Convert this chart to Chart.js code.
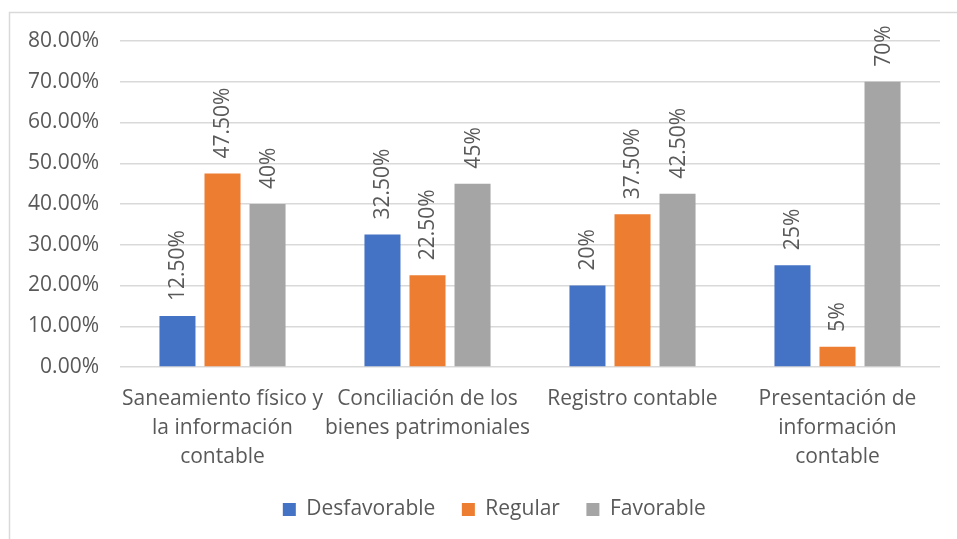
<!DOCTYPE html>
<html>
<head>
<meta charset="utf-8">
<script src="https://cdn.jsdelivr.net/npm/chart.js@4.4.1/dist/chart.umd.min.js"></script>
<style>
  html, body { margin: 0; padding: 0; background: #ffffff; }
  #wrap { width: 957px; height: 539px; position: relative; }
</style>
</head>
<body>
<div id="wrap"><canvas id="c" width="957" height="539"></canvas></div>
<script>
// ---- Data ----
const categories = [
  ["Saneamiento físico y", "la información", "contable"],
  ["Conciliación de los", "bienes patrimoniales"],
  ["Registro contable"],
  ["Presentación de", "información", "contable"]
];
const seriesNames = ["Desfavorable", "Regular", "Favorable"];
const desfavorable = [12.5, 32.5, 20, 25];
const regular = [47.5, 22.5, 37.5, 5];
const favorable = [40, 45, 42.5, 70];
const desfavorableLabels = ["12.50%", "32.50%", "20%", "25%"];
const regularLabels = ["47.50%", "22.50%", "37.50%", "5%"];
const favorableLabels = ["40%", "45%", "42.50%", "70%"];
const yTicks = [0, 10, 20, 30, 40, 50, 60, 70, 80];

// ---- Styles ----
const FONT = "'Open Sans', 'Noto Sans', sans-serif";
const FS = 21;
const TEXT = "#595959";
const GRID = "#d9d9d9";
const colors = ["#4472C4", "#ED7D31", "#A5A5A5"];
const labelSets = [desfavorableLabels, regularLabels, favorableLabels];
const LEGEND_SHIFT = 27;

const borderPlugin = {
  id: 'outerBorder',
  beforeDraw(chart) {
    const ctx = chart.ctx;
    ctx.save();
    ctx.fillStyle = '#ffffff';
    ctx.fillRect(0, 0, chart.width, chart.height);
    ctx.strokeStyle = GRID;
    ctx.lineWidth = 1.5;
    ctx.strokeRect(9.5, 12.5, 2000, 2000);
    ctx.restore();
  }
};

const legendShiftPlugin = {
  id: 'legendShift',
  afterLayout(chart) {
    if (chart.legend) {
      chart.legend.left += LEGEND_SHIFT;
      chart.legend.right += LEGEND_SHIFT;
    }
  }
};

const valueLabelPlugin = {
  id: 'valueLabels',
  afterDatasetsDraw(chart) {
    const ctx = chart.ctx;
    ctx.save();
    ctx.fillStyle = TEXT;
    ctx.font = FS + "px " + FONT;
    ctx.textAlign = 'left';
    ctx.textBaseline = 'middle';
    chart.data.datasets.forEach((ds, di) => {
      const meta = chart.getDatasetMeta(di);
      meta.data.forEach((el, i) => {
        ctx.save();
        ctx.translate(el.x + 1, el.y - 15);
        ctx.rotate(-Math.PI / 2);
        ctx.fillText(labelSets[di][i], 0, 0);
        ctx.restore();
      });
    });
    ctx.restore();
  }
};

new Chart(document.getElementById('c'), {
  type: 'bar',
  data: {
    labels: categories,
    datasets: [
      { label: seriesNames[0], data: desfavorable, backgroundColor: colors[0] },
      { label: seriesNames[1], data: regular, backgroundColor: colors[1] },
      { label: seriesNames[2], data: favorable, backgroundColor: colors[2] }
    ]
  },
  options: {
    responsive: false,
    animation: false,
    devicePixelRatio: 1,
    categoryPercentage: 0.659,
    barPercentage: 0.8,
    layout: { padding: { left: 0, right: 17, top: 41, bottom: 9 } },
    scales: {
      x: {
        grid: { display: false, drawTicks: false },
        border: { display: false },
        ticks: {
          color: TEXT,
          font: { family: FONT, size: FS, lineHeight: 1.38 },
          padding: 18,
          maxRotation: 0,
          autoSkip: false
        },
        afterFit(scale) { scale.height = 111; }
      },
      y: {
        min: 0,
        max: 80,
        afterBuildTicks(scale) { scale.ticks = yTicks.map(v => ({ value: v })); },
        grid: { color: GRID, lineWidth: 1.5, drawTicks: false },
        border: { display: false },
        ticks: {
          color: TEXT,
          font: { family: FONT, size: FS },
          padding: 21,
          callback: v => v.toFixed(2) + '%'
        },
        afterFit(scale) { scale.width = 120; }
      }
    },
    plugins: {
      legend: {
        position: 'bottom',
        labels: {
          color: TEXT,
          font: { family: FONT, size: FS },
          boxWidth: 13,
          boxHeight: 13,
          padding: 21,
          generateLabels(chart) {
            const items = Chart.defaults.plugins.legend.labels.generateLabels(chart);
            items.forEach(it => { it.text = it.text + ' '; it.lineWidth = 0; });
            return items;
          }
        }
      },
      tooltip: { enabled: false }
    }
  },
  plugins: [borderPlugin, legendShiftPlugin, valueLabelPlugin]
});
</script>
</body>
</html>
